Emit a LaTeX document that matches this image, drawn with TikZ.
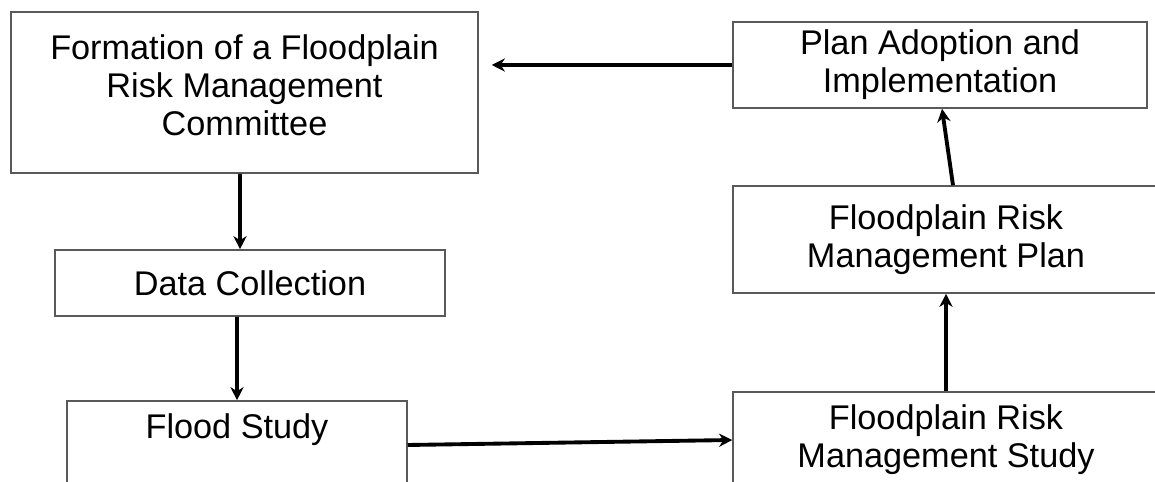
\documentclass[tikz,border=0pt]{standalone}
\usepackage{fontspec}
\setmainfont{Liberation Sans}
\usetikzlibrary{arrows.meta}
\begin{document}
\begin{tikzpicture}[x=0.02cm,y=-0.02cm,
    stage/.style={draw=black!65, line width=0.9pt, align=center, inner sep=0pt,
      font=\fontsize{19.5}{21.5}\selectfont},
    flow/.style={->,>={Stealth[length=7.5pt,width=7.5pt]},line width=2.2pt}]
  \path[use as bounding box,clip] (0,0) rectangle (1155,482);
  % left column
  \node[stage,minimum width=9.34cm,minimum height=3.22cm] (committee) at (244.5,92.5)
    {Formation of a Floodplain\\Risk Management\\Committee\rule[-0.3cm]{0pt}{0pt}};
  \node[stage,minimum width=7.8cm,minimum height=1.32cm] (datacoll) at (250,283) {Data Collection};
  \node[stage,minimum width=6.8cm,minimum height=1.76cm] (flood) at (237,445)
    {Flood Study\rule[-0.75cm]{0pt}{0pt}};
  % right column
  \node[stage,minimum width=8.28cm,minimum height=1.72cm] (adoption) at (940,65)
    {Plan Adoption and\\Implementation};
  \node[stage,minimum width=8.52cm,minimum height=2.14cm] (fmplan) at (946,239.5)
    {Floodplain Risk\\Management Plan};
  \node[stage,minimum width=8.52cm,minimum height=1.92cm] (fmstudy) at (946,440)
    {Floodplain Risk\\Management Study};
  % arrows
  \draw[flow] ([xshift=-0.09cm]committee.south) -- ([xshift=-0.2cm]datacoll.north);
  \draw[flow] ([xshift=-0.26cm]datacoll.south) -- (flood.north);
  \draw[flow] (flood.east) -- (fmstudy.west);
  \draw[flow] (fmstudy.north) -- (fmplan.south);
  \draw[flow] ([xshift=0.14cm]fmplan.north) -- ([xshift=0.04cm]adoption.south);
  \draw[flow,shorten >=0.26cm] (adoption.west) -- (adoption.west -| committee.east);
\end{tikzpicture}
\end{document}
